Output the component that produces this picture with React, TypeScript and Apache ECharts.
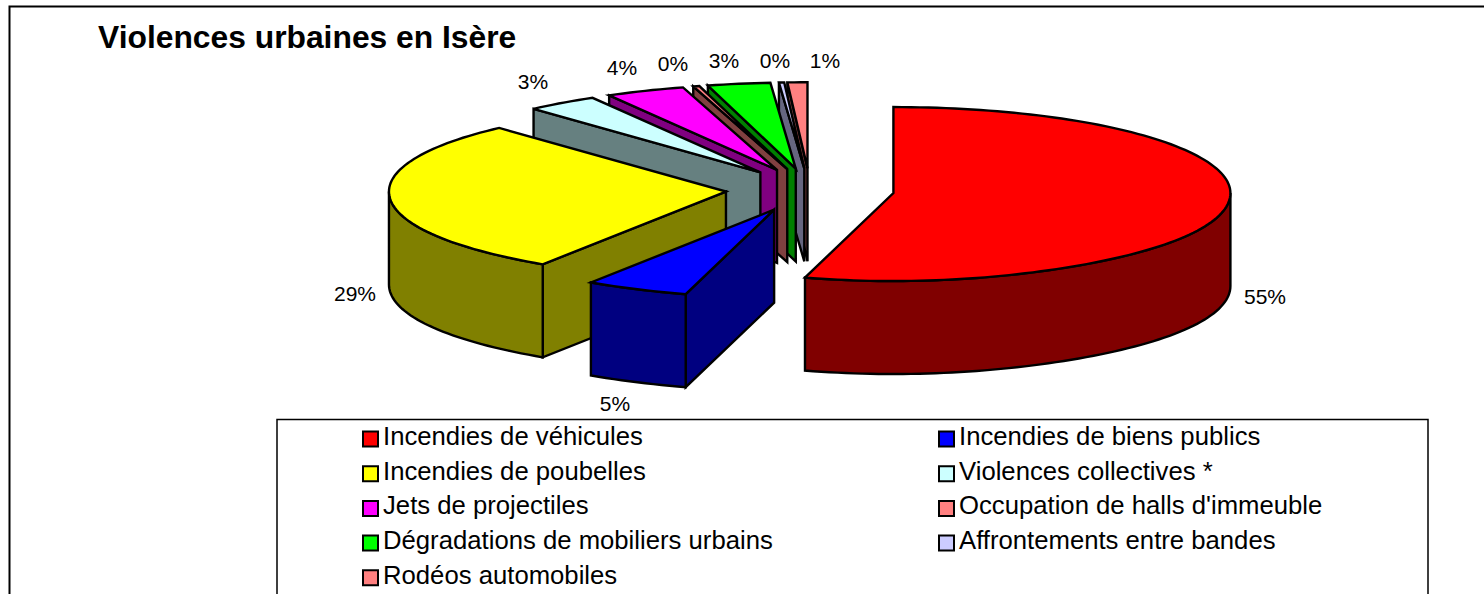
import React, { useEffect, useRef } from "react";
import * as echarts from "echarts";

const CATEGORIES = [
  "Incendies de véhicules",
  "Incendies de biens publics",
  "Incendies de poubelles",
  "Violences collectives *",
  "Jets de projectiles",
  "Occupation de halls d'immeuble",
  "Dégradations de mobiliers urbains",
  "Affrontements entre bandes",
  "Rodéos automobiles",
];
const VALUES = [54.5, 5.0, 28.75, 3.45, 3.8, 0.3, 3.0, 0.25, 0.95];
const TOP_COLORS = ["#FF0000", "#0000FF", "#FFFF00", "#CCFFFF", "#FF00FF", "#FF8080", "#00FF00", "#CCCCFF", "#FF8080"];
const SIDE_COLORS = ["#800000", "#000080", "#808000", "#668080", "#800080", "#804040", "#008000", "#666680", "#804040"];

const TITLE = "Violences urbaines en Isère";
const FONT = "'Liberation Sans', Arial, sans-serif";

// layout of the projected pie
const CX = 810, CY = 190, RX = 337, RY_BACK = 86, RY_FRONT = 88, DEPTH = 93, EXPLODE = 0.25, PINCH = 0.07;
const LABEL_CENTERS = [
  [1265, 296], [615, 403], [355, 293], [533, 81], [622, 67], [673, 63], [724, 60], [775, 60], [825, 60],
];
const DRAW_ORDER = [8, 7, 6, 5, 4, 3, 2, 1, 0];

const total = VALUES.reduce((a, b) => a + b, 0);
const spans = VALUES.map((v, i) => {
  const before = VALUES.slice(0, i).reduce((a, b) => a + b, 0);
  return [(before / total) * 360, ((before + v) / total) * 360];
});

const rad = (d: number) => (d * Math.PI) / 180;

function rim(c: number[], deg: number): number[] {
  const cos = Math.cos(rad(deg));
  const front = Math.max(0, -cos);
  const squeeze = 1 - PINCH * front ** 4;
  const ry = cos > 0 ? RY_BACK : RY_FRONT;
  return [c[0] + RX * Math.sin(rad(deg)) * squeeze, c[1] - ry * cos];
}

function arc(c: number[], a: number, b: number): number[][] {
  const n = Math.max(1, Math.ceil(Math.abs(b - a) / 1.5));
  const out: number[][] = [];
  for (let i = 0; i <= n; i++) out.push(rim(c, a + ((b - a) * i) / n));
  return out;
}

const drop = (p: number[]) => [p[0], p[1] + DEPTH];

function renderSlice(i: number) {
  return () => {
    const [s, e] = spans[i];
    const mid = (s + e) / 2;
    const ryMid = (RY_BACK + RY_FRONT) / 2;
    const c = [CX + EXPLODE * RX * Math.sin(rad(mid)), CY - EXPLODE * ryMid * Math.cos(rad(mid))];
    const outline = { stroke: "#000", lineWidth: 2.4, lineJoin: "miter", miterLimit: 10 };
    const side = { fill: SIDE_COLORS[i], ...outline };
    const children: any[] = [];
    if (s > 180 && s < 360) {
      const p = rim(c, s);
      children.push({ type: "polygon", shape: { points: [c, p, drop(p), drop(c)] }, style: side });
    }
    const wa = Math.max(s, 90);
    const wb = Math.min(e, 270);
    if (wb > wa) {
      const topEdge = arc(c, wa, wb);
      children.push({
        type: "polygon",
        shape: { points: [...topEdge, ...topEdge.map(drop).reverse()] },
        style: side,
      });
    }
    children.push({
      type: "polygon",
      shape: { points: [c, ...arc(c, s, e)] },
      style: { fill: TOP_COLORS[i], ...outline },
    });
    return { type: "group", children };
  };
}

const legendBase = {
  orient: "vertical" as const,
  padding: 0,
  top: 423,
  height: 171,
  itemWidth: 15,
  itemHeight: 15,
  itemGap: 2.7,
  selectedMode: false,
  icon: "rect",
  itemStyle: { borderColor: "#000", borderWidth: 2 },
  formatter: (name: string) => `{t|${name}}`,
  textStyle: {
    fontFamily: FONT,
    fontSize: 25.7,
    color: "#000",
    rich: {
      t: { fontFamily: FONT, fontSize: 25.7, color: "#000", lineHeight: 28, padding: [0, 0, 6, 0] },
    },
  },
};

export default function App() {
  const ref = useRef<HTMLDivElement>(null);
  useEffect(() => {
    document.body.style.margin = "0";
    const chart = echarts.init(ref.current!, undefined, { renderer: "svg" });
    chart.setOption({
      animation: false,
      backgroundColor: "#fff",
      title: {
        text: TITLE,
        left: 98,
        top: 21,
        padding: 0,
        textStyle: { fontFamily: FONT, fontWeight: "bold", fontSize: 31.8, color: "#000" },
      },
      legend: [
        { ...legendBase, left: 362, data: CATEGORIES.filter((_, i) => [0, 2, 4, 6, 8].includes(i)) },
        { ...legendBase, left: 938, data: CATEGORIES.filter((_, i) => [1, 3, 5, 7].includes(i)) },
      ],
      graphic: [
        {
          type: "polyline",
          shape: { points: [[9.5, 594], [9.5, 6.5], [1484, 6.5]] },
          style: { fill: "none", stroke: "#000", lineWidth: 2 },
        },
        {
          type: "polyline",
          shape: { points: [[277, 594], [277, 419.5], [1428, 419.5], [1428, 594]] },
          style: { fill: "none", stroke: "#000", lineWidth: 1.5 },
        },
        ...VALUES.map((v, i) => ({
          type: "text",
          x: LABEL_CENTERS[i][0],
          y: LABEL_CENTERS[i][1],
          style: {
            text: `${Math.round(v)}%`,
            fontFamily: FONT,
            fontSize: 21,
            fill: "#000",
            align: "center",
            verticalAlign: "middle",
          },
        })),
      ],
      series: DRAW_ORDER.map((i) => ({
        type: "custom",
        name: CATEGORIES[i],
        coordinateSystem: "none",
        silent: true,
        itemStyle: { color: TOP_COLORS[i] },
        data: [{ name: CATEGORIES[i], value: VALUES[i] }],
        renderItem: renderSlice(i),
      })),
    });
    return () => chart.dispose();
  }, []);
  return <div ref={ref} style={{ width: 1484, height: 594 }} />;
}
